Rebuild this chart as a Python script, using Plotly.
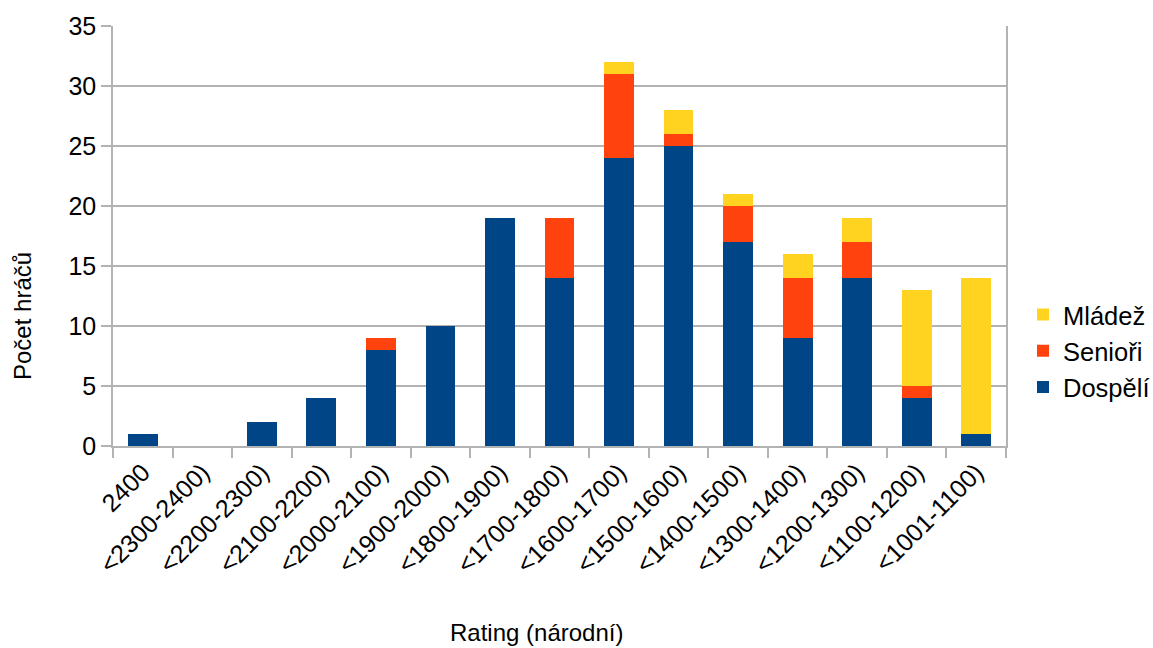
import plotly.graph_objects as go

categories = ["2400", "<2300-2400)", "<2200-2300)", "<2100-2200)", "<2000-2100)",
              "<1900-2000)", "<1800-1900)", "<1700-1800)", "<1600-1700)", "<1500-1600)",
              "<1400-1500)", "<1300-1400)", "<1200-1300)", "<1100-1200)", "<1001-1100)"]
dospeli = [1, 0, 2, 4, 8, 10, 19, 14, 24, 25, 17, 9, 14, 4, 1]
seniori = [0, 0, 0, 0, 1, 0, 0, 5, 7, 1, 3, 5, 3, 1, 0]
mladez = [0, 0, 0, 0, 0, 0, 0, 0, 1, 2, 1, 2, 2, 8, 13]
y_ticks = [0, 5, 10, 15, 20, 25, 30, 35]

FONT = "Liberation Sans, Arial, sans-serif"
GRID = "#b3b3b3"
FS = 25

fig = go.Figure()
fig.add_trace(go.Bar(x=categories, y=dospeli, name="Dospělí", marker_color="#004586",
                     marker_line_width=0, legendgroup="a"))
fig.add_trace(go.Bar(x=categories, y=seniori, name="Senioři", marker_color="#ff420e",
                     marker_line_width=0, legendgroup="b"))
fig.add_trace(go.Bar(x=categories, y=mladez, name="Mládež", marker_color="#ffd320",
                     marker_line_width=0, legendgroup="c"))

L, R, T, B = 113, 147, 26, 202
W, H = 1153, 648
pw, ph = W - L - R, H - T - B

fig.update_layout(
    width=W, height=H,
    barmode="stack", bargap=0.5,
    plot_bgcolor="white", paper_bgcolor="white",
    margin=dict(l=L, r=R, t=T, b=B, pad=0, autoexpand=False),
    font=dict(family=FONT, size=FS, color="black"),
    showlegend=True,
    legend=dict(x=(1023 - L) / pw, y=(446 - 351) / ph, xanchor="left", yanchor="middle",
                traceorder="reversed", tracegroupgap=9, borderwidth=0,
                bgcolor="rgba(0,0,0,0)",
                font=dict(family=FONT, size=25.5, color="black")),
    xaxis=dict(type="category", tickangle=-45, tickson="boundaries",
               ticks="outside", ticklen=10, tickcolor=GRID, tickwidth=1.5,
               showline=True, linecolor=GRID, linewidth=1.5,
               showgrid=False,
               tickfont=dict(family=FONT, size=FS, color="black")),
    yaxis=dict(range=[0, 35], tickvals=y_ticks, ticks="outside", ticklen=10,
               tickcolor=GRID, tickwidth=1.5,
               showline=True, linecolor=GRID, linewidth=1.5, mirror=True,
               showgrid=True, gridcolor=GRID, gridwidth=1.5, zeroline=False,
               tickfont=dict(family=FONT, size=FS, color="black")),
    annotations=[
        dict(text="Počet hráčů", xref="paper", yref="paper",
             x=(22 - L) / pw, y=(446 - 316) / ph, xanchor="center", yanchor="middle",
             textangle=-90, showarrow=False, font=dict(family=FONT, size=24, color="black")),
        dict(text="Rating (národní)", xref="paper", yref="paper",
             x=(536 - L) / pw, y=(446 - 648) / ph, xanchor="center", yanchor="bottom",
             showarrow=False, font=dict(family=FONT, size=24, color="black")),
    ],
)

fig.write_html("out.html", config={"displayModeBar": False},
               post_script="document.body.style.margin='0';")
